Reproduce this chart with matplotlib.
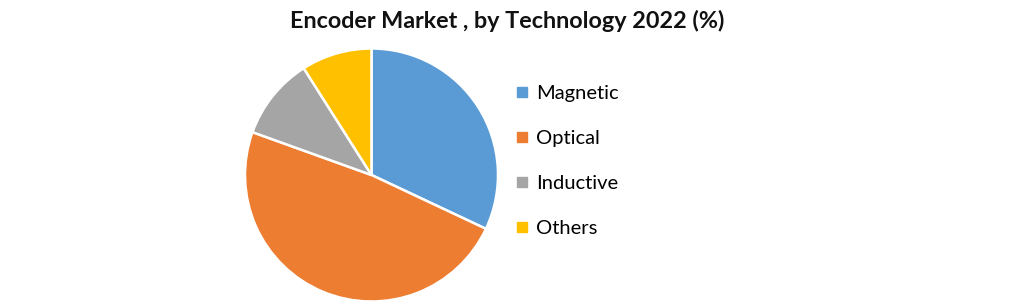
import matplotlib.pyplot as plt
from matplotlib.lines import Line2D

labels = ['Magnetic', 'Optical', 'Inductive', 'Others']
shares = [32.0, 48.5, 10.5, 9.0]
colors = ['#5B9BD5', '#ED7D31', '#A5A5A5', '#FFC000']

plt.rcParams['font.family'] = ['Lato', 'DejaVu Sans']

fig = plt.figure(figsize=(10.21, 3.04), dpi=100)
# pie axes placed in pixels: left 245, top 48.5, size 253
ax = fig.add_axes([245 / 1021, (304 - 301.5) / 304, 253 / 1021, 253 / 304])
ax.pie(shares, colors=colors, startangle=90, counterclock=False,
       wedgeprops=dict(edgecolor='white', linewidth=1.8))
ax.set_xlim(-1, 1)
ax.set_ylim(-1, 1)
ax.set_aspect('equal')

fig.text(507 / 1021, 1 - 21 / 304, 'Encoder Market , by Technology 2022 (%)',
         ha='center', va='center', fontsize=16.8, fontweight='bold', color='#111111')

handles = [Line2D([], [], marker='s', linestyle='none', markersize=7,
                  markerfacecolor=c, markeredgecolor=c) for c in colors]
fig.legend(handles, labels, loc='upper left', bbox_to_anchor=(514 / 1021, 1 - 85 / 304),
           frameon=False, fontsize=14.5, labelspacing=1.38, handlelength=0.8,
           handletextpad=0.3, borderaxespad=0, borderpad=0)

fig.savefig('out.png', dpi=100)
